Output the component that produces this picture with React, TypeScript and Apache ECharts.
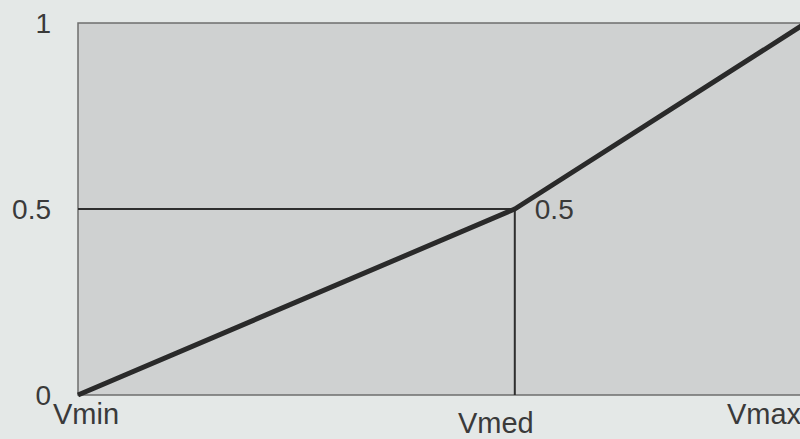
import React, { useEffect, useRef } from "react";
import * as echarts from "echarts";

const xCategories = ["Vmin", "Vmed", "Vmax"];
const xValues = [0, 0.6, 1];
const yValues = [0, 0.5, 1];
const yTickLabels = ["0", "0.5", "1"];
const guideX = [0, 0.6, 0.6];
const guideY = [0.5, 0.5, 0];

const FONT = "'Liberation Sans', Arial, sans-serif";
const TEXT = "#3a3a3a";

export default function App() {
  const ref = useRef<HTMLDivElement>(null);
  useEffect(() => {
    document.body.style.margin = "0";
    document.body.style.background = "#e4e8e7";
    const chart = echarts.init(ref.current!, null, { renderer: "svg" });
    const mainData = xValues.map((x, i) => [x, yValues[i]]);
    const guideData = guideX.map((x, i) => [x, guideY[i]]);
    const styleKeys = ["a", "b", "c"];
    chart.setOption({
      animation: false,
      backgroundColor: "#e4e8e7",
      grid: {
        left: 78,
        top: 23,
        bottom: 44,
        right: -6,
        outerBoundsMode: "none",
        containLabel: false,
        show: true,
        backgroundColor: "#cfd1d1",
        borderColor: "#6e6e6e",
        borderWidth: 1.5,
      },
      xAxis: {
        type: "value",
        min: 0,
        max: 1,
        interval: 0.2,
        axisLine: { show: false },
        axisTick: { show: false },
        splitLine: { show: false },
        axisLabel: {
          margin: 4,
          showMinLabel: true,
          showMaxLabel: true,
          formatter: (v: number) => {
            const idx = xValues.findIndex((x) => Math.abs(x - v) < 1e-6);
            if (idx < 0) return "";
            return `{${styleKeys[idx]}|${xCategories[idx]}}`;
          },
          rich: {
            a: { fontSize: 29, fontFamily: FONT, color: TEXT, padding: [0, 0, 0, 16] },
            b: { fontSize: 29, fontFamily: FONT, color: TEXT, padding: [9, 38, 0, 0] },
            c: { fontSize: 29, fontFamily: FONT, color: TEXT, padding: [0, 84, 0, 0] },
          },
        },
      },
      yAxis: {
        type: "value",
        min: 0,
        max: 1,
        interval: 0.5,
        axisLine: { show: false },
        axisTick: { show: false },
        splitLine: { show: false },
        axisLabel: {
          margin: 27,
          fontSize: 28,
          fontFamily: FONT,
          color: TEXT,
          formatter: (v: number) => {
            const idx = yValues.findIndex((y) => Math.abs(y - v) < 1e-6);
            return idx < 0 ? "" : yTickLabels[idx];
          },
        },
      },
      series: [
        {
          type: "line",
          data: guideData,
          symbol: "none",
          lineStyle: { color: "#2e2e2e", width: 2 },
          z: 2,
        },
        {
          type: "line",
          data: mainData.map((d, i) =>
            i === 1
              ? {
                  value: d,
                  label: {
                    show: true,
                    position: "right",
                    distance: 20,
                    formatter: (p: any) => String(p.value[1]),
                    fontSize: 28,
                    fontFamily: FONT,
                    color: TEXT,
                  },
                }
              : d
          ),
          symbol: "circle",
          symbolSize: 0,
          showSymbol: true,
          lineStyle: { color: "#2a2a2a", width: 5 },
          z: 3,
        },
      ],
    });
    return () => chart.dispose();
  }, []);
  return <div ref={ref} style={{ width: 800, height: 439 }} />;
}
